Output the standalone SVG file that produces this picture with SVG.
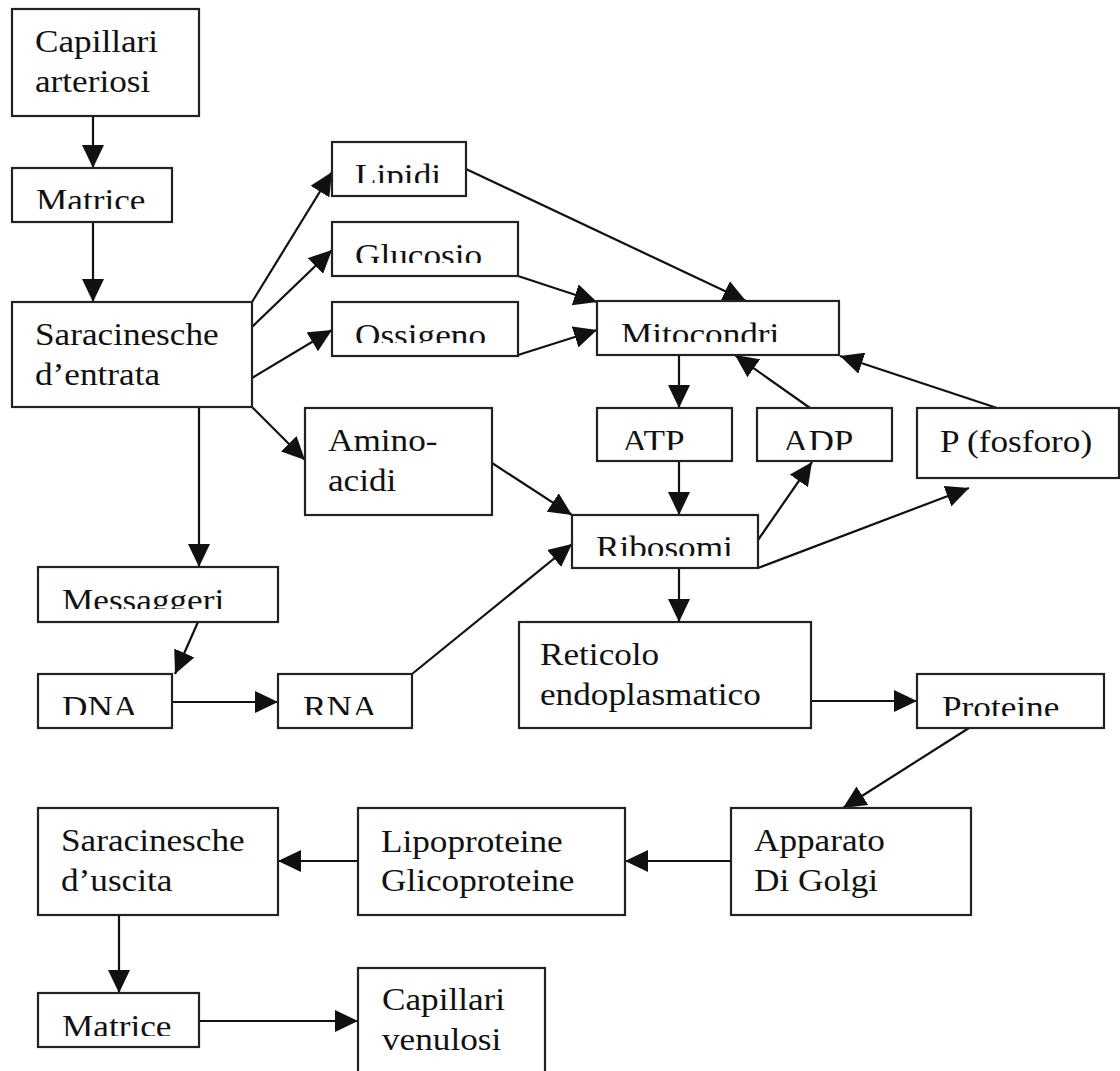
<svg xmlns="http://www.w3.org/2000/svg" width="1120" height="1071" viewBox="0 0 1120 1071">
<style>
.box{fill:#fff;stroke:#222;stroke-width:2.2}
.t{font-family:"Liberation Serif","Times New Roman",serif;font-size:32px;fill:#111}
.c line{stroke:#111;stroke-width:2.2;marker-end:url(#ah)}
</style>
<defs>
<marker id="ah" markerUnits="userSpaceOnUse" markerWidth="23" markerHeight="22" refX="23" refY="11" orient="auto" viewBox="0 0 23 22">
<path d="M0,0 L23,11 L0,22 z" fill="#111"/>
</marker>
<clipPath id="k-mat1"><rect x="12" y="168" width="160" height="41"/></clipPath>
<clipPath id="k-lip"><rect x="332" y="142" width="134" height="41"/></clipPath>
<clipPath id="k-glu"><rect x="332" y="222" width="186" height="41"/></clipPath>
<clipPath id="k-oss"><rect x="332" y="302" width="186" height="41"/></clipPath>
<clipPath id="k-mit"><rect x="597" y="301" width="242" height="41"/></clipPath>
<clipPath id="k-atp"><rect x="597" y="408" width="135" height="42"/></clipPath>
<clipPath id="k-adp"><rect x="757" y="408" width="135" height="42"/></clipPath>
<clipPath id="k-rib"><rect x="572" y="515" width="186" height="41"/></clipPath>
<clipPath id="k-mes"><rect x="38" y="567" width="240" height="42"/></clipPath>
<clipPath id="k-dna"><rect x="38" y="674" width="134" height="41"/></clipPath>
<clipPath id="k-rna"><rect x="278" y="674" width="134" height="41"/></clipPath>
<clipPath id="k-pro"><rect x="917" y="674" width="187" height="42"/></clipPath>
<clipPath id="k-mat2"><rect x="38" y="993" width="161" height="43"/></clipPath>
</defs>
<rect width="1120" height="1071" fill="#fff"/>

<g id="connectors" class="c">
<line x1="93" y1="116" x2="93" y2="168"/>
<line x1="93" y1="222" x2="93" y2="302"/>
<line x1="252" y1="302" x2="332" y2="172"/>
<line x1="252" y1="327" x2="332" y2="250"/>
<line x1="252" y1="378" x2="332" y2="330"/>
<line x1="252" y1="407" x2="305" y2="460"/>
<line x1="199" y1="407" x2="199" y2="567"/>
<line x1="466" y1="169" x2="746" y2="301"/>
<line x1="518" y1="276" x2="597" y2="302"/>
<line x1="518" y1="355" x2="597" y2="330"/>
<line x1="679" y1="355" x2="679" y2="408"/>
<line x1="810" y1="408" x2="735" y2="355"/>
<line x1="997" y1="408" x2="840" y2="356"/>
<line x1="679" y1="461" x2="679" y2="515"/>
<line x1="758" y1="540" x2="812" y2="462"/>
<line x1="758" y1="568" x2="969" y2="488"/>
<line x1="492" y1="463" x2="572" y2="515"/>
<line x1="412" y1="674" x2="572" y2="544"/>
<line x1="198" y1="622" x2="175" y2="674"/>
<line x1="172" y1="702" x2="278" y2="702"/>
<line x1="679" y1="568" x2="679" y2="622"/>
<line x1="811" y1="701" x2="917" y2="701"/>
<line x1="969" y1="728" x2="843" y2="808"/>
<line x1="731" y1="861" x2="625" y2="861"/>
<line x1="358" y1="861" x2="278" y2="861"/>
<line x1="119" y1="915" x2="119" y2="993"/>
<line x1="199" y1="1021" x2="358" y2="1021"/>
</g>

<g id="capillari-arteriosi"><rect class="box" x="12" y="9" width="187" height="107"/>
<text class="t" transform="translate(35 52) scale(1.1 1)"><tspan x="0" y="0">Capillari</tspan><tspan x="0" y="40">arteriosi</tspan></text></g>

<g id="matrice-1"><rect class="box" x="12" y="168" width="160" height="54"/>
<g clip-path="url(#k-mat1)"><text class="t" transform="translate(36 211) scale(1.1 1)">Matrice</text></g></g>

<g id="saracinesche-entrata"><rect class="box" x="12" y="302" width="240" height="105"/>
<text class="t" transform="translate(35 345) scale(1.1 1)"><tspan x="0" y="0">Saracinesche</tspan><tspan x="0" y="40">d’entrata</tspan></text></g>

<g id="lipidi"><rect class="box" x="332" y="142" width="134" height="54"/>
<g clip-path="url(#k-lip)"><text class="t" transform="translate(355 186) scale(1.1 1)">Lipidi</text></g></g>

<g id="glucosio"><rect class="box" x="332" y="222" width="186" height="54"/>
<g clip-path="url(#k-glu)"><text class="t" transform="translate(355 266) scale(1.1 1)">Glucosio</text></g></g>

<g id="ossigeno"><rect class="box" x="332" y="302" width="186" height="54"/>
<g clip-path="url(#k-oss)"><text class="t" transform="translate(355 346) scale(1.1 1)">Ossigeno</text></g></g>

<g id="mitocondri"><rect class="box" x="597" y="301" width="242" height="54"/>
<g clip-path="url(#k-mit)"><text class="t" transform="translate(621 345) scale(1.1 1)">Mitocondri</text></g></g>

<g id="aminoacidi"><rect class="box" x="305" y="408" width="187" height="107"/>
<text class="t" transform="translate(328 451) scale(1.1 1)"><tspan x="0" y="0">Amino-</tspan><tspan x="0" y="40">acidi</tspan></text></g>

<g id="atp"><rect class="box" x="597" y="408" width="135" height="53"/>
<g clip-path="url(#k-atp)"><text class="t" transform="translate(622 452) scale(1.1 1)">ATP</text></g></g>

<g id="adp"><rect class="box" x="757" y="408" width="135" height="53"/>
<g clip-path="url(#k-adp)"><text class="t" transform="translate(783 452) scale(1.1 1)">ADP</text></g></g>

<g id="fosforo"><rect class="box" x="917" y="408" width="202" height="70"/>
<text class="t" transform="translate(940 452) scale(1.1 1)">P (fosforo)</text></g>

<g id="ribosomi"><rect class="box" x="572" y="515" width="186" height="53"/>
<g clip-path="url(#k-rib)"><text class="t" transform="translate(596 558) scale(1.1 1)">Ribosomi</text></g></g>

<g id="messaggeri"><rect class="box" x="38" y="567" width="240" height="55"/>
<g clip-path="url(#k-mes)"><text class="t" transform="translate(62 611) scale(1.1 1)">Messaggeri</text></g></g>

<g id="dna"><rect class="box" x="38" y="674" width="134" height="54"/>
<g clip-path="url(#k-dna)"><text class="t" transform="translate(62 718) scale(1.1 1)">DNA</text></g></g>

<g id="rna"><rect class="box" x="278" y="674" width="134" height="54"/>
<g clip-path="url(#k-rna)"><text class="t" transform="translate(303 718) scale(1.1 1)">RNA</text></g></g>

<g id="reticolo"><rect class="box" x="519" y="622" width="292" height="106"/>
<text class="t" transform="translate(540 665) scale(1.1 1)"><tspan x="0" y="0">Reticolo</tspan><tspan x="0" y="40">endoplasmatico</tspan></text></g>

<g id="proteine"><rect class="box" x="917" y="674" width="187" height="54"/>
<g clip-path="url(#k-pro)"><text class="t" transform="translate(942 718) scale(1.1 1)">Proteine</text></g></g>

<g id="saracinesche-uscita"><rect class="box" x="38" y="808" width="240" height="107"/>
<text class="t" transform="translate(61 851) scale(1.1 1)"><tspan x="0" y="0">Saracinesche</tspan><tspan x="0" y="40">d’uscita</tspan></text></g>

<g id="lipoproteine"><rect class="box" x="358" y="808" width="267" height="107"/>
<text class="t" transform="translate(381 852) scale(1.1 1)"><tspan x="0" y="0">Lipoproteine</tspan><tspan x="0" y="39">Glicoproteine</tspan></text></g>

<g id="apparato"><rect class="box" x="731" y="808" width="240" height="107"/>
<text class="t" transform="translate(754 851) scale(1.1 1)"><tspan x="0" y="0">Apparato</tspan><tspan x="0" y="40">Di Golgi</tspan></text></g>

<g id="matrice-2"><rect class="box" x="38" y="993" width="161" height="54"/>
<g clip-path="url(#k-mat2)"><text class="t" transform="translate(62 1037) scale(1.1 1)">Matrice</text></g></g>

<g id="capillari-venulosi"><rect class="box" x="358" y="968" width="187" height="110"/>
<text class="t" transform="translate(382 1010) scale(1.1 1)"><tspan x="0" y="0">Capillari</tspan><tspan x="0" y="40">venulosi</tspan></text></g>
</svg>
